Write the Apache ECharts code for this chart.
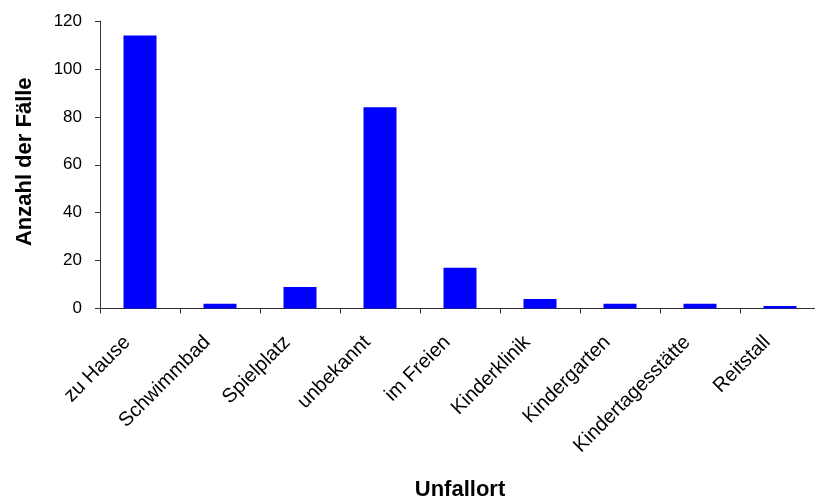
<!DOCTYPE html>
<html>
<head>
<meta charset="utf-8">
<script src="https://cdn.jsdelivr.net/npm/echarts@6/dist/echarts.min.js"></script>
<style>
  html, body { margin: 0; padding: 0; background: #fff; overflow: hidden; }
  #chart { width: 815px; height: 503px; }
</style>
</head>
<body>
<div id="chart"></div>
<script>
// Accident locations and number of cases
const categories = ['zu Hause', 'Schwimmbad', 'Spielplatz', 'unbekannt', 'im Freien',
  'Kinderklinik', 'Kindergarten', 'Kindertagesstätte', 'Reitstall'];
const caseCounts = [114, 2, 9, 84, 17, 4, 2, 2, 1];
const yTicks = { min: 0, max: 120, interval: 20 };

const FONT = "'Liberation Sans', Arial, Helvetica, sans-serif";
const AXIS_COLOR = '#333333';

const chart = echarts.init(document.getElementById('chart'), null, { renderer: 'canvas' });

chart.setOption({
  animation: false,
  backgroundColor: '#ffffff',
  // fixed plot rectangle; the category axis runs a little past the right edge
  grid: {
    left: 100, top: 21, width: 720, height: 287.5,
    containLabel: false,
    outerBoundsMode: 'none'
  },
  xAxis: {
    type: 'category',
    data: categories,
    boundaryGap: true,
    name: 'Unfallort',
    nameLocation: 'middle',
    nameGap: 170,
    nameTextStyle: { fontFamily: FONT, fontSize: 22, fontWeight: 'bold', color: '#000' },
    axisLine: { lineStyle: { color: AXIS_COLOR, width: 1 } },
    axisTick: { show: true, length: 5, alignWithLabel: false, lineStyle: { color: AXIS_COLOR } },
    axisLabel: {
      interval: 0,
      rotate: 45,
      margin: 18,
      padding: [0, 18, 0, 0],
      fontFamily: FONT,
      fontSize: 20,
      color: '#000'
    },
    splitLine: { show: false }
  },
  yAxis: {
    type: 'value',
    min: yTicks.min,
    max: yTicks.max,
    interval: yTicks.interval,
    name: 'Anzahl der Fälle',
    nameLocation: 'middle',
    nameRotate: 90,
    nameGap: 64,
    nameTextStyle: { fontFamily: FONT, fontSize: 22, fontWeight: 'bold', color: '#000', padding: [0, 0, 0, 6] },
    axisLine: { show: true, lineStyle: { color: AXIS_COLOR, width: 1 } },
    axisTick: { show: true, length: 5, lineStyle: { color: AXIS_COLOR } },
    axisLabel: { margin: 18, fontFamily: FONT, fontSize: 17, color: '#000' },
    splitLine: { show: false }
  },
  series: [{
    type: 'bar',
    data: caseCounts,
    barWidth: 33,
    itemStyle: { color: '#0000ff' }
  }]
});
</script>
</body>
</html>
